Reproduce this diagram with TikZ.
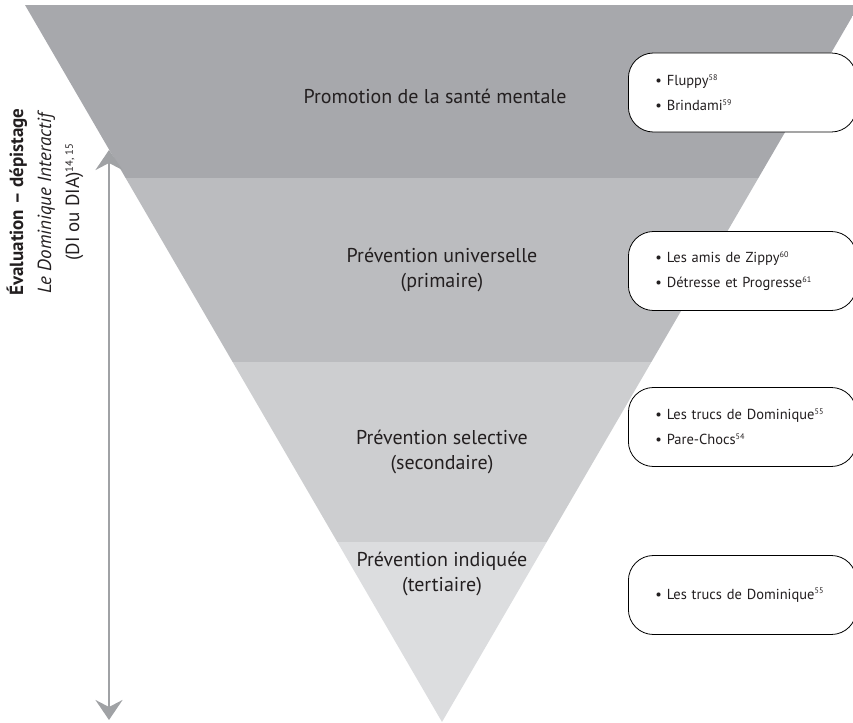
\documentclass[tikz,border=0pt]{standalone}
\usepackage{fontspec}
\setmainfont{PT Sans}
\usetikzlibrary{positioning,arrows.meta}
\definecolor{bandA}{HTML}{A7A8AC}
\definecolor{bandB}{HTML}{BBBCBF}
\definecolor{bandC}{HTML}{CDCED0}
\definecolor{bandD}{HTML}{DCDDDF}
\definecolor{ink}{HTML}{231F20}
\definecolor{arrowgray}{HTML}{A0A2A5}
\newcommand{\refnum}[1]{\textsuperscript{\scalebox{0.8}{#1}}}
\begin{document}
\begin{tikzpicture}[x=1pt,y=-1pt,
  levellabel/.style={align=center,text=ink,font=\fontsize{20}{25}\selectfont},
  refbox/.style={draw=black,fill=white,rounded corners=25pt,line width=0.8pt,
    minimum height=79pt,text width=174pt,inner xsep=27pt,align=left,anchor=west,
    text=ink,font=\fontsize{14.5}{25}\selectfont},
  evalarrow/.style={draw=arrowgray,line width=2.5pt,
    {Stealth[length=20pt,width=27pt,inset=7pt]}-{Stealth[length=20pt,width=27pt,inset=7pt]}}]
\useasboundingbox (0,0) rectangle (853,722);
\clip (0,0) rectangle (853,722);

% inverted triangle, four bands
\begin{scope}
\clip (25,5) -- (859,5) -- (442,722) -- cycle;
\fill[bandA] (0,5)   rectangle (860,178);
\fill[bandB] (0,178) rectangle (860,362);
\fill[bandC] (0,362) rectangle (860,542);
\fill[bandD] (0,542) rectangle (860,722);
\end{scope}

\node[levellabel] (promo) at (435,96)  {Promotion de la santé mentale};
\node[levellabel] (univ)  at (442,270) {Prévention universelle\\(primaire)};
\node[levellabel] (select) at (442,452) {Prévention selective\\(secondaire)};
\node[levellabel] (indiq) at (442,574) {Prévention indiquée\\(tertiaire)};

% programmes
\node[refbox] (boxpromo)  at (628,92.5) {• Fluppy\refnum{58}\\• Brindami\refnum{59}};
\node[refbox] (boxuniv)   at (628,271)  {• Les amis de Zippy\refnum{60}\\• Détresse et Progresse\refnum{61}};
\node[refbox] (boxselect) at (628,427)  {• Les trucs de Dominique\refnum{55}\\• Pare-Chocs\refnum{54}};
\node[refbox] (boxindiq)  at (628,595)  {• Les trucs de Dominique\refnum{55}};

% evaluation arrow
\coordinate (evaltop) at (109,150);
\coordinate (evalbot) at (109,720);
\draw[evalarrow] (evaltop) -- (evalbot);
\node[rotate=90,align=center,text=ink,font=\fontsize{19}{28}\selectfont] (evaltext) at (45,202)
  {\textbf{Évaluation – dépistage}\\\textit{Le Dominique Interactif}\\(DI ou DIA)\refnum{14, 15}};
\end{tikzpicture}
\end{document}
